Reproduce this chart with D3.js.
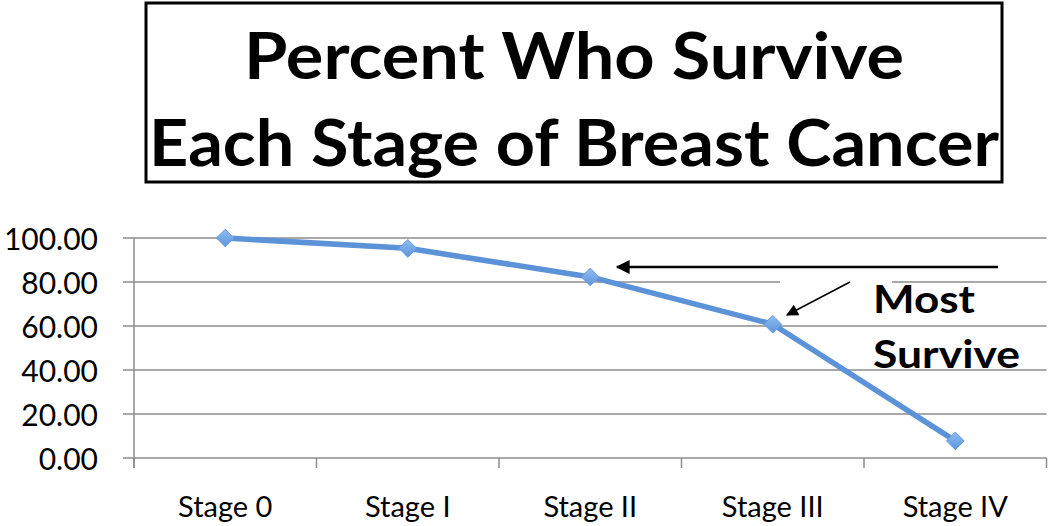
<!DOCTYPE html>
<html><head><meta charset="utf-8">
<script src="https://cdn.jsdelivr.net/npm/d3@7"></script>
<style>body{margin:0;background:#fff}svg{display:block}text{font-family:Lato,"Open Sans",sans-serif}</style>
</head><body><svg id="c" width="1050" height="526"></svg>
<script>
const categories = ["Stage 0","Stage I","Stage II","Stage III","Stage IV"];
const survival = [100, 95.3, 82.3, 60.8, 7.8];
const yTicks = [0,20,40,60,80,100];
const titleLines = ["Percent Who Survive","Each Stage of Breast Cancer"];
const noteLines = ["Most","Survive"];

const svg = d3.select("#c");
const x = d3.scaleBand().domain(categories).range([134,1046.5]);
const y = d3.scaleLinear().domain([0,100]).range([458,238]);

// title box
svg.append("rect").attr("x",146).attr("y",3).attr("width",856).attr("height",179)
  .attr("fill","#fff").attr("stroke","#000").attr("stroke-width",3);
const titleW = [660, 850];
svg.selectAll(".title").data(titleLines).join("text")
  .attr("x",574).attr("y",(d,i)=>79+i*87).attr("text-anchor","middle")
  .attr("font-size",65).attr("font-weight",700)
  .attr("textLength",(d,i)=>titleW[i]).attr("lengthAdjust","spacingAndGlyphs").text(d=>d);

// gridlines
svg.append("g").selectAll("line").data(yTicks).join("line")
  .attr("x1",123).attr("x2",1046.5).attr("y1",d=>y(d)).attr("y2",d=>y(d))
  .attr("stroke","#8c8c8c").attr("stroke-width",1.5);

// y axis
const ya = svg.append("g").attr("transform","translate(134,0)")
  .call(d3.axisLeft(y).tickValues(yTicks).tickFormat(d3.format(".2f")).tickSize(0).tickPadding(36));
ya.select(".domain").remove();
ya.selectAll("text").attr("font-size",30).attr("fill","#000").attr("dy","0.38em")
  .style("font-family","Lato,sans-serif");
svg.append("line").attr("x1",134).attr("x2",134).attr("y1",y(100)).attr("y2",468)
  .attr("stroke","#8c8c8c").attr("stroke-width",1.5);

// x axis
const xa = svg.append("g").attr("transform","translate(0,458)")
  .call(d3.axisBottom(x).tickSize(0).tickPadding(0));
xa.select(".domain").remove();
xa.selectAll("text").attr("font-size",29).attr("fill","#000").attr("y",59).attr("dy",0)
  .style("font-family","Lato,sans-serif");
// category boundary ticks
const bounds = categories.map(c=>x(c)).concat([x.range()[1]]);
svg.append("g").selectAll("line").data(bounds).join("line")
  .attr("x1",d=>d).attr("x2",d=>d).attr("y1",458).attr("y2",468)
  .attr("stroke","#8c8c8c").attr("stroke-width",1.5);

// white patch behind note (gap in gridline)
svg.append("rect").attr("x",780).attr("y",279).attr("width",112).attr("height",6).attr("fill","#fff");

// line
const cx = d => x(d) + x.bandwidth()/2;
svg.append("path").datum(survival)
  .attr("d", d3.line().x((d,i)=>cx(categories[i])).y(d=>y(d)))
  .attr("fill","none").attr("stroke","#5b92d8").attr("stroke-width",5.5).attr("stroke-linejoin","round");

// markers
const defs = svg.append("defs");
const g = defs.append("linearGradient").attr("id","mg").attr("x1",0).attr("y1",0).attr("x2",0).attr("y2",1);
g.append("stop").attr("offset","0").attr("stop-color","#8ebcf0");
g.append("stop").attr("offset","1").attr("stop-color","#5d95dc");
svg.append("g").selectAll("path").data(survival).join("path")
  .attr("transform",(d,i)=>`translate(${cx(categories[i])},${y(d)})`)
  .attr("d",d3.symbol(d3.symbolDiamond2, 200)())
  .attr("fill","url(#mg)").attr("stroke","#6a9ddd").attr("stroke-width",1);

// arrows
defs.append("marker").attr("id","ah2").attr("viewBox","0 0 10 10").attr("refX",9).attr("refY",5)
  .attr("markerWidth",18).attr("markerHeight",14).attr("orient","auto").attr("markerUnits","userSpaceOnUse")
  .append("path").attr("d","M0,0 L10,5 L0,10 Z").attr("fill","#000");
defs.append("marker").attr("id","ah3").attr("viewBox","0 0 10 10").attr("refX",9).attr("refY",5)
  .attr("markerWidth",16).attr("markerHeight",12).attr("orient","auto").attr("markerUnits","userSpaceOnUse")
  .append("path").attr("d","M0,0 L10,5 L0,10 Z").attr("fill","#000");
svg.append("line").attr("x1",998).attr("y1",267).attr("x2",617).attr("y2",267)
  .attr("stroke","#000").attr("stroke-width",2.5).attr("marker-end","url(#ah2)");
svg.append("line").attr("x1",850).attr("y1",282).attr("x2",787).attr("y2",315)
  .attr("stroke","#000").attr("stroke-width",1.5).attr("marker-end","url(#ah3)");

// note
const noteW = [102, 147];
svg.selectAll(".note").data(noteLines).join("text")
  .attr("x",873).attr("y",(d,i)=>313+i*55).attr("font-size",39).attr("font-weight",700)
  .attr("textLength",(d,i)=>noteW[i]).attr("lengthAdjust","spacingAndGlyphs").text(d=>d);
</script></body></html>
